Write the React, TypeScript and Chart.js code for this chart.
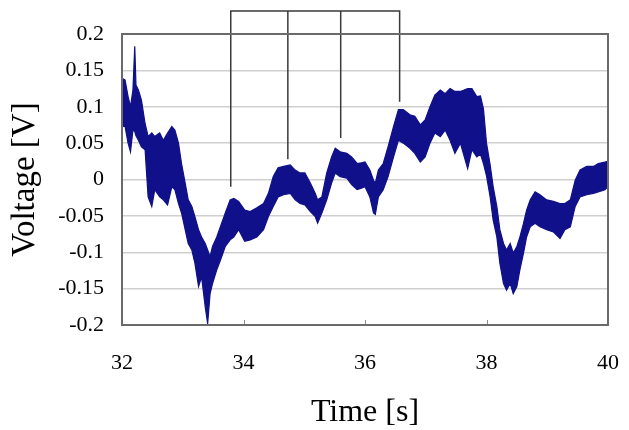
import React, { useEffect, useRef } from "react";
import { Chart, registerables } from "chart.js";

Chart.register(...registerables);

// Time samples [s] and the upper / lower envelope of the voltage band [V]
const times = [
  32.0, 32.05, 32.1, 32.14, 32.18, 32.21, 32.23, 32.27, 32.32, 32.38, 32.43, 32.49, 32.54, 32.62, 32.68, 32.75,
  32.82, 32.87, 32.93, 32.98, 33.04, 33.09, 33.15, 33.2, 33.26, 33.31, 33.37, 33.41, 33.45, 33.49, 33.56, 33.62,
  33.7, 33.78, 33.84, 33.92, 34.02, 34.11, 34.22, 34.33, 34.41, 34.49, 34.57, 34.66, 34.77, 34.85, 34.93, 35.01,
  35.1, 35.18, 35.22, 35.29, 35.37, 35.45, 35.51, 35.59, 35.7, 35.78, 35.87, 35.94, 36.0, 36.08, 36.14, 36.17,
  36.22, 36.3, 36.38, 36.47, 36.55, 36.63, 36.74, 36.82, 36.91, 36.99, 37.07, 37.15, 37.24, 37.32, 37.4, 37.48,
  37.57, 37.69, 37.76, 37.84, 37.9, 37.95, 38.0, 38.06, 38.11, 38.17, 38.22, 38.28, 38.33, 38.39, 38.44, 38.5,
  38.55, 38.61, 38.66, 38.72, 38.8, 38.88, 38.99, 39.1, 39.21, 39.29, 39.38, 39.46, 39.54, 39.65, 39.76, 39.84,
  39.95, 40.0,
];
const upperV = [
  0.139, 0.137, 0.114, 0.1, 0.123, 0.183, 0.13, 0.123, 0.109, 0.077, 0.059, 0.064, 0.059, 0.064, 0.054, 0.064,
  0.073, 0.068, 0.05, 0.022, -0.005, -0.028, -0.037, -0.051, -0.069, -0.079, -0.088, -0.097, -0.106, -0.092, -0.079, -0.065,
  -0.046, -0.028, -0.026, -0.03, -0.042, -0.044, -0.039, -0.033, -0.019, 0.004, 0.016, 0.018, 0.02, 0.013, 0.009, 0.009,
  -0.005, -0.019, -0.028, -0.024, 0.009, 0.031, 0.043, 0.038, 0.036, 0.031, 0.022, 0.023, 0.024, 0.013, -0.001, -0.005,
  0.013, 0.022, 0.045, 0.073, 0.096, 0.096, 0.089, 0.087, 0.075, 0.082, 0.1, 0.116, 0.123, 0.118, 0.125, 0.121,
  0.121, 0.125, 0.125, 0.114, 0.115, 0.097, 0.05, 0.02, -0.01, -0.037, -0.069, -0.088, -0.097, -0.088, -0.101, -0.092,
  -0.079, -0.06, -0.042, -0.028, -0.017, -0.021, -0.028, -0.03, -0.033, -0.033, -0.028, -0.001, 0.013, 0.018, 0.018, 0.022,
  0.024, 0.025,
];
const lowerV = [
  0.073, 0.073, 0.05, 0.038, 0.068, 0.066, 0.06, 0.054, 0.045, 0.041, -0.024, -0.037, -0.014, -0.024, -0.028, -0.035,
  -0.01, -0.014, -0.033, -0.046, -0.069, -0.088, -0.097, -0.115, -0.147, -0.134, -0.175, -0.198, -0.157, -0.143, -0.124, -0.111,
  -0.092, -0.083, -0.079, -0.069, -0.085, -0.083, -0.079, -0.069, -0.051, -0.037, -0.024, -0.021, -0.019, -0.028, -0.033, -0.035,
  -0.044, -0.051, -0.06, -0.046, -0.028, -0.005, 0.009, 0.004, 0.002, -0.007, -0.014, -0.012, -0.01, -0.024, -0.046, -0.048,
  -0.024, -0.014, 0.004, 0.031, 0.054, 0.05, 0.043, 0.036, 0.024, 0.031, 0.05, 0.064, 0.059, 0.068, 0.054, 0.036,
  0.05, 0.015, 0.041, 0.031, 0.035, 0.022, 0.005, -0.024, -0.056, -0.079, -0.115, -0.143, -0.152, -0.143, -0.157, -0.147,
  -0.124, -0.101, -0.079, -0.065, -0.06, -0.065, -0.069, -0.072, -0.081, -0.069, -0.065, -0.037, -0.024, -0.021, -0.019, -0.017,
  -0.014, -0.01,
];

// Annotation bracket: marker times and the voltage where each marker line ends
const markerTimes = [33.79, 34.73, 35.6, 36.57];
const markerEnds = [-0.01, 0.028, 0.057, 0.107];
const bracketTop = 0.2316;

const yTickLabels = ["-0.2", "-0.15", "-0.1", "-0.05", "0", "0.05", "0.1", "0.15", "0.2"];
const xTickLabels = ["32", "34", "36", "38", "40"];

const BAND = "#10108a";
const SERIF = "'Liberation Serif', 'Times New Roman', serif";

const frame = {
  id: "frame",
  afterDatasetsDraw(chart: any) {
    const { ctx, chartArea } = chart;
    const xs = chart.scales.x;
    ctx.save();
    ctx.strokeStyle = "#8a8a8a";
    ctx.lineWidth = 1;
    xs.ticks.forEach((t: any) => {
      const px = Math.round(xs.getPixelForValue(t.value)) + 0.5;
      ctx.beginPath();
      ctx.moveTo(px, chartArea.bottom);
      ctx.lineTo(px, chartArea.bottom - 5);
      ctx.stroke();
    });
    ctx.strokeStyle = "#6a6a6a";
    ctx.lineWidth = 2;
    ctx.strokeRect(chartArea.left, chartArea.top, chartArea.right - chartArea.left, chartArea.bottom - chartArea.top);
    ctx.restore();
  },
};

export default function App() {
  const ref = useRef<HTMLCanvasElement>(null);
  useEffect(() => {
    if (!ref.current) return;
    const band = times.map((t, i) => ({ x: t, y: upperV[i] }));
    const bandLow = times.map((t, i) => ({ x: t, y: lowerV[i] }));
    const bracket = [
      { x: markerTimes[0], y: markerEnds[0] },
      { x: markerTimes[0], y: bracketTop },
      { x: markerTimes[3], y: bracketTop },
      { x: markerTimes[3], y: markerEnds[3] },
    ];
    const inner1 = [
      { x: markerTimes[1], y: bracketTop },
      { x: markerTimes[1], y: markerEnds[1] },
    ];
    const inner2 = [
      { x: markerTimes[2], y: bracketTop },
      { x: markerTimes[2], y: markerEnds[2] },
    ];
    const lineStyle = {
      borderColor: "#3a3a3a",
      borderWidth: 1.5,
      pointRadius: 0,
      fill: false,
      clip: false as any,
      tension: 0,
    };
    const chart = new Chart(ref.current, {
      type: "line",
      data: {
        datasets: [
          { data: band, borderColor: BAND, borderWidth: 1.2, pointRadius: 0, fill: false, tension: 0 },
          { data: bandLow, borderColor: BAND, borderWidth: 1.2, pointRadius: 0, fill: "-1", backgroundColor: BAND, tension: 0 },
          { data: bracket, ...lineStyle },
          { data: inner1, ...lineStyle },
          { data: inner2, ...lineStyle },
        ],
      },
      options: {
        animation: false,
        responsive: false,
        layout: { padding: { top: 34, right: 21, left: 0, bottom: 0 } },
        plugins: { legend: { display: false }, tooltip: { enabled: false } },
        scales: {
          x: {
            type: "linear",
            min: 32,
            max: 40,
            afterFit: (s: any) => {
              s.height = 105;
              s.paddingLeft = 0;
              s.paddingRight = 0;
            },
            grid: { display: false, drawTicks: false },
            border: { display: false },
            ticks: {
              stepSize: 2,
              padding: 25,
              color: "#000",
              font: { family: SERIF, size: 22 },
              maxRotation: 0,
              callback: (_v: any, i: number) => xTickLabels[i],
            },
            title: {
              display: true,
              text: "Time [s]",
              color: "#000",
              font: { family: SERIF, size: 32, lineHeight: 1 },
              padding: { top: 0, bottom: 1 },
            },
          },
          y: {
            min: -0.2,
            max: 0.2,
            afterFit: (s: any) => {
              s.width = 122;
              s.paddingTop = 0;
              s.paddingBottom = 0;
            },
            grid: { color: "#cfcfcf", lineWidth: 1.5, drawTicks: false },
            border: { display: false },
            ticks: {
              stepSize: 0.05,
              padding: 18,
              color: "#000",
              font: { family: SERIF, size: 22 },
              callback: (_v: any, i: number) => yTickLabels[i],
            },
            title: {
              display: true,
              text: "Voltage [V]",
              color: "#000",
              font: { family: SERIF, size: 33, lineHeight: 1 },
              padding: { top: 9, bottom: 0 },
            },
          },
        },
      },
      plugins: [frame],
    });
    return () => chart.destroy();
  }, []);
  return (
    <div style={{ position: "absolute", left: 0, top: 0, width: 629, height: 430, background: "#fff" }}>
      <canvas ref={ref} width={629} height={430} />
    </div>
  );
}
